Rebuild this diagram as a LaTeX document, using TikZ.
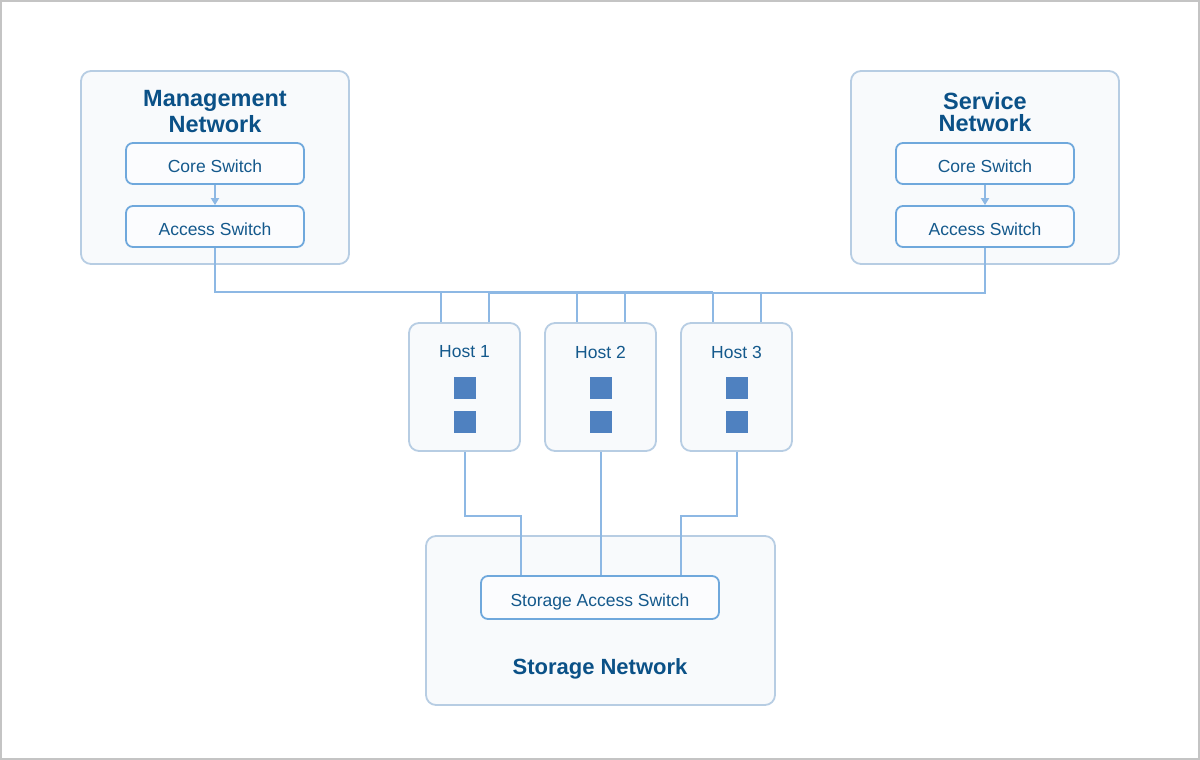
\documentclass[tikz,border=0pt]{standalone}
\usepackage{fontspec}
\setmainfont{Liberation Sans}
\usetikzlibrary{arrows.meta,calc}
\definecolor{frameline}{HTML}{C4C4C4}
\definecolor{groupline}{HTML}{B7CDE3}
\definecolor{groupfill}{HTML}{F8FAFC}
\definecolor{boxline}{HTML}{6FA8DC}
\definecolor{boxfill}{HTML}{FBFCFE}
\definecolor{linkline}{HTML}{8DB8E4}
\definecolor{titletext}{HTML}{0B5187}
\definecolor{boxtext}{HTML}{14598C}
\definecolor{portfill}{HTML}{4F81C0}
\tikzset{
  group/.style={draw=groupline, fill=groupfill, line width=1.8pt, rounded corners=10pt, inner sep=0pt},
  switchbox/.style={draw=boxline, fill=boxfill, line width=1.8pt, rounded corners=7pt, inner sep=0pt,
    text=boxtext, font=\fontsize{17.5}{20}\selectfont, text height=17pt, text depth=0pt},
  hostbox/.style={group, minimum width=111pt, minimum height=128pt},
  port/.style={fill=portfill, minimum size=22pt, inner sep=0pt},
  grouptitle/.style={text=titletext, font=\bfseries\fontsize{23.5}{26}\selectfont, align=center},
  hostlabel/.style={text=boxtext, font=\fontsize{17.5}{20}\selectfont},
  link/.style={draw=linkline, line width=2pt},
}
\begin{document}
\begin{tikzpicture}[x=1pt,y=-1pt]
\useasboundingbox (0,0) rectangle (1200,760);
\draw[frameline, line width=2pt] (1,1) rectangle (1199,759);
% management network
\node[group, minimum width=268pt, minimum height=193pt] (mgmt) at (215,167.5) {};
\node[grouptitle] (mgmttitle) at (215,112) {Management\\Network};
\node[switchbox, minimum width=178pt, minimum height=41pt] (mcore) at (215,163.5) {Core Switch};
\node[switchbox, minimum width=178pt, minimum height=41pt] (maccess) at (215,226.5) {Access Switch};
\draw[link, -{Triangle[length=7pt,width=8pt]}] (mcore) -- (maccess);
% service network
\node[group, minimum width=268pt, minimum height=193pt] (serv) at (985,167.5) {};
\node[grouptitle, font=\bfseries\fontsize{23.5}{22}\selectfont] (servtitle) at (985,112) {Service\\Network};
\node[switchbox, minimum width=178pt, minimum height=41pt] (score) at (985,163.5) {Core Switch};
\node[switchbox, minimum width=178pt, minimum height=41pt] (saccess) at (985,226.5) {Access Switch};
\draw[link, -{Triangle[length=7pt,width=8pt]}] (score) -- (saccess);
% hosts
\foreach \i/\x in {1/464.5, 2/600.5, 3/736.5} {
  \node[hostbox] (h\i) at (\x,387) {};
  \node[hostlabel] (h\i label) at (\x,352) {Host \i};
  \node[port] (h\i a) at (\x,388) {};
  \node[port] (h\i b) at (\x,422) {};
}
% storage network
\node[group, minimum width=349pt, minimum height=169pt] (stor) at (600.5,620.5) {};
\node[switchbox, minimum width=238pt, minimum height=43pt] (saswitch) at (600,597.5) {Storage Access Switch};
\node[grouptitle, font=\bfseries\fontsize{22}{26}\selectfont] (stortitle) at (600,669) {Storage Network};
% buses to hosts
\coordinate (mbus) at (0,292);
\coordinate (sbus) at (0,293);
\coordinate (sanbus) at (0,516);
\draw[link] (maccess.south) |- ([xshift=-24pt]h3.north |- mbus);
\draw[link] (saccess.south) |- ([xshift=24pt]h1.north |- sbus);
\foreach \i in {1,2,3} {
  \draw[link] ([xshift=-24pt]h\i.north) -- ([xshift=-24pt]h\i.north |- mbus);
  \draw[link] ([xshift=24pt]h\i.north) -- ([xshift=24pt]h\i.north |- sbus);
}
% storage links
\draw[link] (h1.south) |- ([xshift=-79pt]saswitch.north |- sanbus) -- ([xshift=-79pt]saswitch.north);
\draw[link] (h2.south) -- (h2.south |- saswitch.north);
\draw[link] (h3.south) |- ([xshift=81pt]saswitch.north |- sanbus) -- ([xshift=81pt]saswitch.north);
\end{tikzpicture}
\end{document}
